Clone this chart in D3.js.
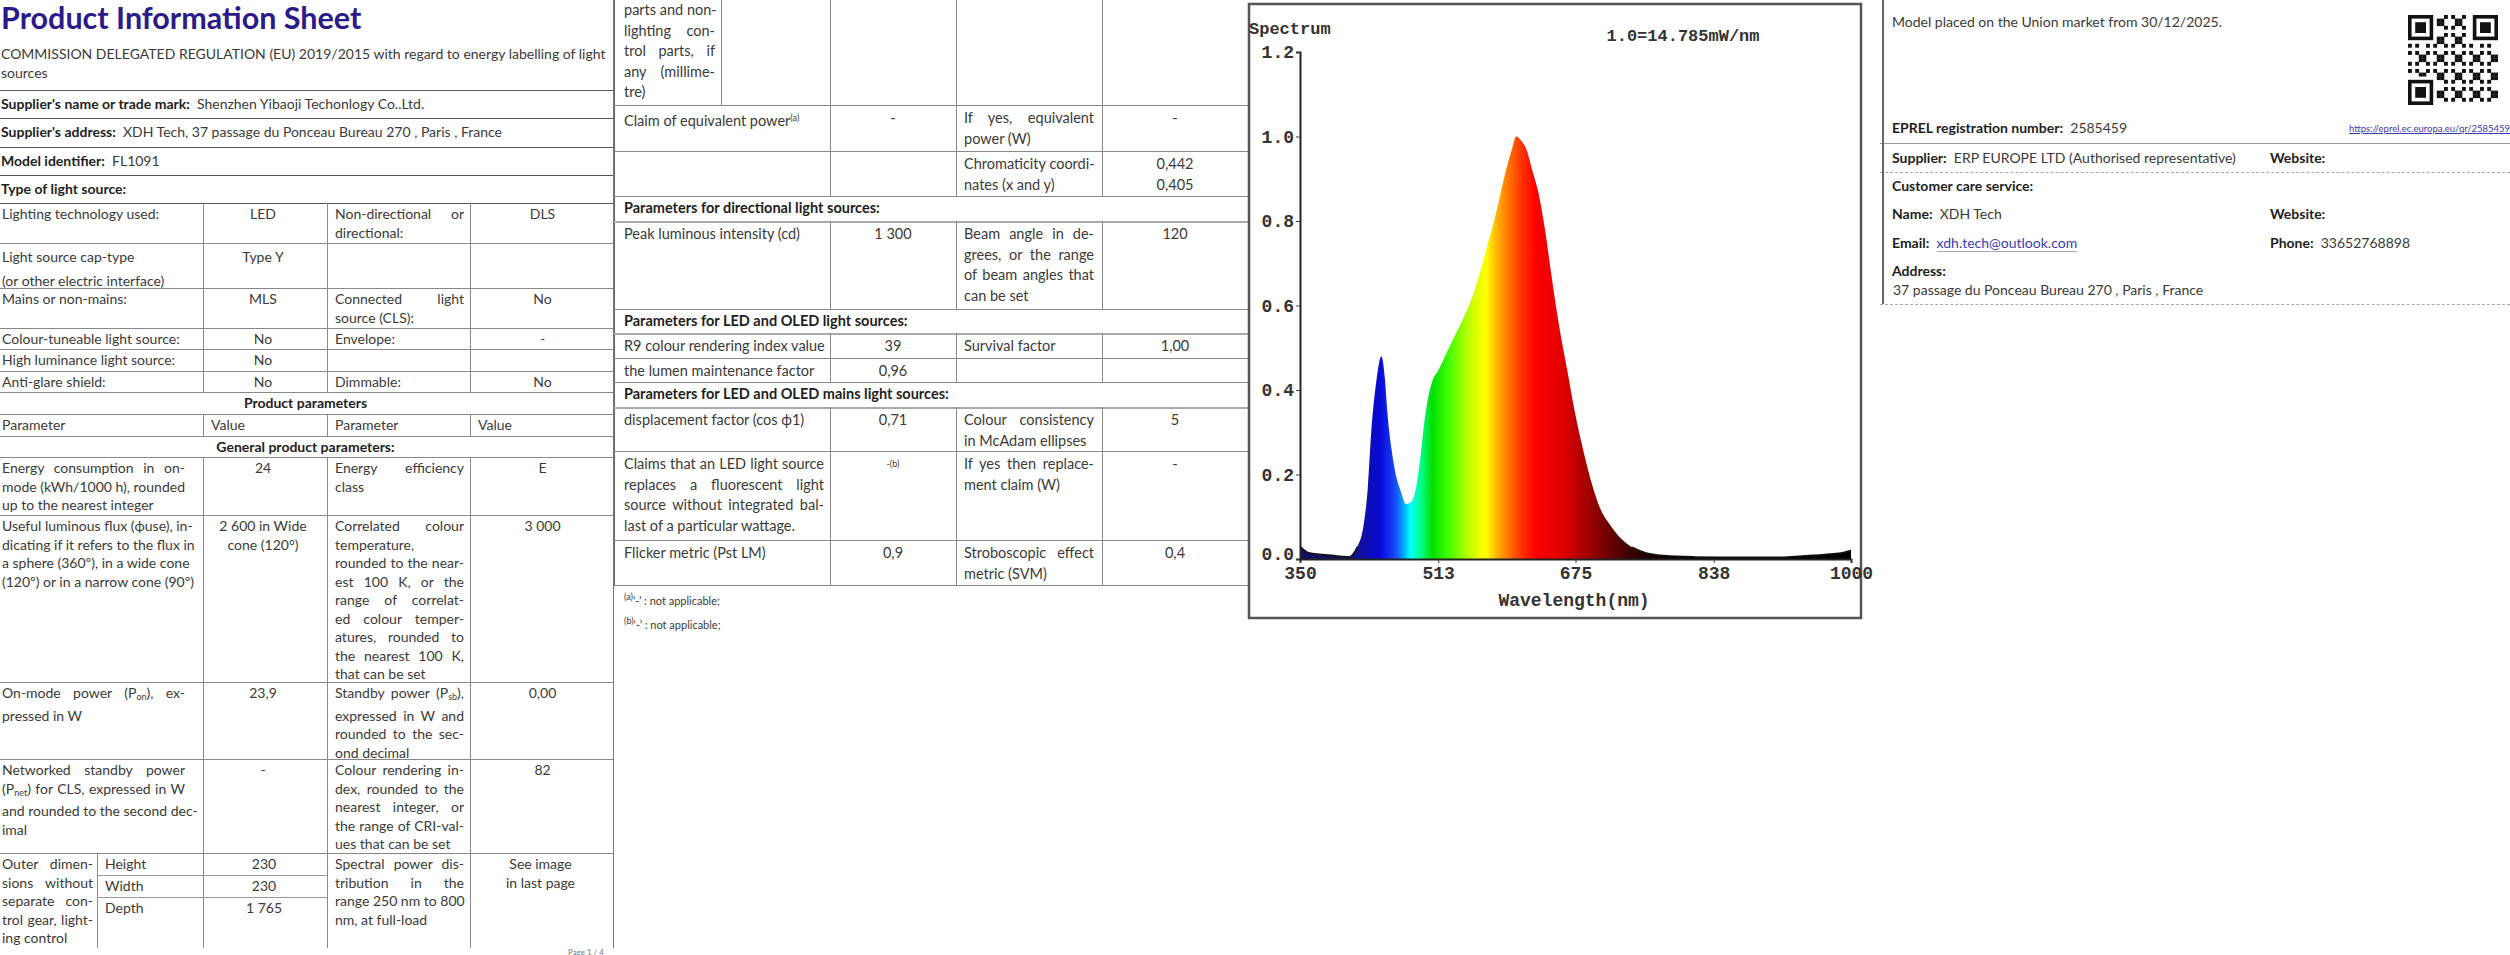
<!DOCTYPE html>
<html><head><meta charset="utf-8">
<script src="https://cdn.jsdelivr.net/npm/d3@7"></script>
<style>
body{margin:0;width:2510px;height:955px;background:#fff;overflow:hidden;font-family:Lato,"Open Sans",sans-serif;color:#3a3a3a;position:relative}
.abs{position:absolute;white-space:nowrap}
.cell{position:absolute;box-sizing:border-box;overflow:hidden}
.ln{white-space:nowrap;overflow:visible}
b{color:#1e1e1e}
sub{font-size:9px;vertical-align:-2px}
sup{font-size:9px;vertical-align:5px}
</style></head><body>
<script>
// ---- spectrum data ----
const wavelengths = [350,360,370,380,390,400,408,412,418,425,430,434,440,446,450,453,458,463,469,475,481,487,492,497,502,506,514,521,533,545,555,564,572,579,586,593,600,605,611,617,624,632,639,646,655,665,675,685,694,704,716,728,742,757,780,815,860,912,950,975,990,1000];
const intensities = [0.03,0.015,0.012,0.01,0.008,0.006,0.005,0.01,0.03,0.08,0.17,0.3,0.42,0.48,0.43,0.35,0.26,0.2,0.16,0.13,0.135,0.17,0.24,0.33,0.39,0.42,0.45,0.48,0.53,0.58,0.63,0.69,0.75,0.8,0.86,0.92,0.97,1.0,0.99,0.97,0.92,0.86,0.78,0.68,0.56,0.45,0.34,0.25,0.18,0.12,0.08,0.05,0.028,0.015,0.008,0.005,0.004,0.004,0.008,0.012,0.015,0.02];
const xTicks = [350,513,675,838,1000];
const yTicks = [0,0.2,0.4,0.6,0.8,1.0,1.2];
const stopWl = [405,425,445,462,472,480,492,506,525,545,560,570,582,596,612,628,660,690,720,752,800];
const stopCol = ["#101060","#1010a8","#0808d8","#1848ff","#00a8ff","#00ffff","#00ff90","#00e000","#40ff00","#a8ff00","#e8ff00","#ffff00","#ffb400","#ff7400","#ff3000","#ff0000","#e00000","#a00000","#600000","#250000","#000000"];

// ---- sheet text ----
const titleText = "Product Information Sheet";
const subtitleLines = ["COMMISSION DELEGATED REGULATION (EU) 2019/2015 with regard to energy labelling of light","sources"];
const headerRows = [["Supplier's name or trade mark:","Shenzhen Yibaoji Techonlogy Co..Ltd."],["Supplier's address:","XDH Tech, 37 passage du Ponceau Bureau 270 , Paris , France"],["Model identifier:","FL1091"],["Type of light source:",""]];
const page1Rows = [
 {h:40,c:[["Lighting technology used:"],["LED"],["Non-directional or","directional:"],["DLS"]]},
 {h:45,lh:24,left:true,c:[["Light source cap-type","(or other electric interface)"],["Type Y"],[""],[""]]},
 {h:40,c:[["Mains or non-mains:"],["MLS"],["Connected light","source (CLS):"],["No"]]},
 {h:21,c:[["Colour-tuneable light source:"],["No"],["Envelope:"],["-"]]},
 {h:22,c:[["High luminance light source:"],["No"],[""],[""]]},
 {h:21,c:[["Anti-glare shield:"],["No"],["Dimmable:"],["No"]]},
 {h:22,title:"Product parameters"},
 {h:22,c:[["Parameter"],["Value"],["Parameter"],["Value"]],plain:true},
 {h:21,title:"General product parameters:"},
 {h:58,c:[["Energy consumption in on-","mode (kWh/1000 h), rounded","up to the nearest integer"],["24"],["Energy efficiency","class"],["E"]]},
 {h:167,c:[["Useful luminous flux (ϕuse), in-","dicating if it refers to the flux in","a sphere (360º), in a wide cone","(120º) or in a narrow cone (90º)"],["2 600 in Wide","cone (120°)"],["Correlated colour","temperature,","rounded to the near-","est 100 K, or the","range of correlat-","ed colour temper-","atures, rounded to","the nearest 100 K,","that can be set"],["3 000"]]},
 {h:77,c:[["On-mode power (P<sub>on</sub>), ex-","pressed in W"],["23,9"],["Standby power (P<sub>sb</sub>),","expressed in W and","rounded to the sec-","ond decimal"],["0,00"]]},
 {h:94,c:[["Networked standby power","(P<sub>net</sub>) for CLS, expressed in W","and rounded to the second dec-","imal"],["-"],["Colour rendering in-","dex, rounded to the","nearest integer, or","the range of CRI-val-","ues that can be set"],["82"]]}
];
const dimLabel = ["Outer dimen-","sions without","separate con-","trol gear, light-","ing control"];
const dimNames = ["Height","Width","Depth"];
const dimValues = ["230","230","1 765"];
const spdCell = [["Spectral power dis-","tribution in the","range 250 nm to 800","nm, at full-load"],["See image","in last page"]];
const page2Rows = [
 {h:105,first:true,c:[["parts and non-","lighting con-","trol parts, if","any (millime-","tre)"],[""],[""],[""]]},
 {h:46,c:[["Claim of equivalent power<sup>(a)</sup>"],["-"],["If yes, equivalent","power (W)"],["-"]]},
 {h:45,c:[[""],[""],["Chromaticity coordi-","nates (x and y)"],["0,442","0,405"]]},
 {h:25,title:"Parameters for directional light sources:"},
 {h:88,c:[["Peak luminous intensity (cd)"],["1 300"],["Beam angle in de-","grees, or the range","of beam angles that","can be set"],["120"]]},
 {h:24,title:"Parameters for LED and OLED light sources:"},
 {h:25,c:[["R9 colour rendering index value"],["39"],["Survival factor"],["1,00"]]},
 {h:24,c:[["the lumen maintenance factor"],["0,96"],[""],[""]]},
 {h:25,title:"Parameters for LED and OLED mains light sources:"},
 {h:44,c:[["displacement factor (cos ϕ1)"],["0,71"],["Colour consistency","in McAdam ellipses"],["5"]]},
 {h:89,c:[["Claims that an LED light source","replaces a fluorescent light","source without integrated bal-","last of a particular wattage."],["<sup>-(b)</sup>"],["If yes then replace-","ment claim (W)"],["-"]]},
 {h:45,c:[["Flicker metric (Pst LM)"],["0,9"],["Stroboscopic effect","metric (SVM)"],["0,4"]]}
];
const footnotes = ["<sup>(a)</sup>‘-’ : not applicable;","<sup>(b)</sup>‘-’ : not applicable;"];
const rightTop = "Model placed on the Union market from 30/12/2025.";
const eprel = ["EPREL registration number:","2585459","https://eprel.ec.europa.eu/qr/2585459"];
const contacts = [["Supplier:","ERP EUROPE LTD (Authorised representative)","Website:",""],["Name:","XDH Tech","Website:",""],["Email:","xdh.tech@outlook.com","Phone:","33652768898"]];
const addressText = "37 passage du Ponceau Bureau 270 , Paris , France";

const body = d3.select("body");
const line = (x1,y1,x2,y2,c="#8a8a8a",w=1,dash) => body.append("div").attr("class","abs")
  .style("left",Math.min(x1,x2)+"px").style("top",Math.min(y1,y2)+"px")
  .style("width",(x1===x2?0:Math.abs(x2-x1))+"px").style("height",(y1===y2?0:Math.abs(y2-y1))+"px")
  .style(x1===x2?"border-left":"border-top",`${w}px ${dash?"dashed":"solid"} ${c}`);

function cell(x,y,w,h,lines,opt={}){
  const d = body.append("div").attr("class","cell")
    .style("left",x+"px").style("top",y+"px").style("width",w+"px").style("height",h+"px")
    .style("padding",`${opt.pt??2}px ${opt.pr??6}px 0 ${opt.pl??4}px`)
    .style("font-size",(opt.fs||14)+"px").style("line-height",(opt.lh||18.5)+"px");
  lines.forEach((t,i)=>{
    const l = d.append("div").attr("class","ln").html(t);
    if(opt.center) l.style("text-align","center");
    else if(!opt.left && lines.length>1 && i<lines.length-1) l.style("text-align","justify").style("text-align-last","justify");
  });
}

// ---- page 1 ----
body.append("div").attr("class","abs").style("left","1px").style("top","-1px")
  .style("font-size","30.5px").style("font-weight","bold").style("color","#2b1a8a").text(titleText);
subtitleLines.forEach((t,i)=>body.append("div").attr("class","abs").style("left","1px").style("top",(45+i*19)+"px").style("font-size","14px").text(t));
let y = 90;
line(0,y,613,y,"#555");
headerRows.forEach(r=>{
  body.append("div").attr("class","abs").style("left","1px").style("top",(y+5)+"px").style("font-size","14px")
    .html(`<b>${r[0]}</b>&nbsp; ${r[1]}`);
  y+=28.25; line(0,Math.round(y),613,Math.round(y),"#555");
});
y=203;
const c1 = [0,203,327,470,613];
page1Rows.forEach(r=>{
  if(r.title){ cell(0,y,613,r.h,[`<b>${r.title}</b>`],{center:true}); }
  else r.c.forEach((t,i)=>{
    const center = (i%2===1 || i===3) && !r.plain;
    cell(c1[i],y,c1[i+1]-c1[i],r.h,t,{center,left:r.left,lh:r.lh,pl:i>1||r.plain&&i>0?8:2,pr:i===0?18:6});
    if(i>0) line(c1[i],y,c1[i],y+r.h);
  });
  y+=r.h; line(0,y,613,y,"#888");
});
// dimension block
const dimTop=y, dimH=[22,22,53];
cell(0,y,97,95,dimLabel,{pl:2,pr:4});
line(97,y,97,y+95); line(203,y,203,y+95); line(327,y,327,y+95); line(470,y,470,y+95);
dimNames.forEach((n,i)=>{
  cell(97,y,106,dimH[i],[n],{pl:8}); cell(203,y,124,dimH[i],[dimValues[i]],{center:true});
  y+=dimH[i]; if(i<2) line(97,y,327,y,"#999");
});
cell(327,dimTop,143,95,spdCell[0],{pl:8});
cell(470,dimTop,143,95,spdCell[1],{center:true});
line(613,0,613,948,"#777");
body.append("div").attr("class","abs").style("left","568px").style("top","947px").style("font-size","8px").style("color","#777").text("Page 1 / 4");

// ---- page 2 ----
const c2 = [614,830,956,1102,1248];
const fs2 = 14.5;
y=0;
line(614,0,614,585,"#666");
page2Rows.forEach(r=>{
  if(r.title){ cell(614,y,634,r.h,[`<b>${r.title}</b>`],{fs:fs2,pl:10,pt:3}); }
  else r.c.forEach((t,i)=>{
    const center = i===1 || i===3;
    if(r.first && i===0){ cell(614,y,107,r.h,t,{fs:fs2,lh:20.5,pl:10,pr:6,pt:0}); line(721,y,721,y+r.h); }
    else cell(c2[i],y,c2[i+1]-c2[i],r.h,t,{center,fs:fs2,lh:20.5,pl:i===0?10:8,pr:i===0?6:8,pt:3});
    if(i>0) line(c2[i],y,c2[i],y+r.h);
  });
  y+=r.h; line(614,y,1248,y,r.title?"#aaa":"#888",r.title?2:1);
});
footnotes.forEach((t,i)=>body.append("div").attr("class","abs").style("left","624px").style("top",(y+6+i*24)+"px").style("font-size","11px").html(t));

// ---- spectrum chart ----
const svg = body.append("svg").attr("class","abs").style("left","1245px").style("top","0px").attr("width",640).attr("height",625);
svg.append("rect").attr("x",4).attr("y",4).attr("width",612).attr("height",614).attr("fill","#fff").attr("stroke","#555").attr("stroke-width",2.5);
const x = d3.scaleLinear().domain([350,1000]).range([55,606]);
const yS = d3.scaleLinear().domain([0,1.2]).range([559,52]);
const grad = svg.append("defs").append("linearGradient").attr("id","spec").attr("gradientUnits","userSpaceOnUse")
  .attr("x1",x(350)).attr("x2",x(1000)).attr("y1",0).attr("y2",0);
grad.selectAll("stop").data(stopWl).enter().append("stop")
  .attr("offset",d=>(d-350)/650).attr("stop-color",(d,i)=>stopCol[i]);
const pts = wavelengths.map((w,i)=>[w,intensities[i]]);
svg.append("path").datum(pts).attr("fill","url(#spec)")
  .attr("d",d3.area().x(d=>x(d[0])).y0(yS(0)).y1(d=>yS(d[1])).curve(d3.curveMonotoneX));
svg.append("path").datum(pts).attr("fill","none").attr("stroke","#111").attr("stroke-width",1.5)
  .attr("d",d3.line().defined(d=>d[0]<=418||d[0]>=742).x(d=>x(d[0])).y(d=>yS(d[1])).curve(d3.curveMonotoneX));
const mono = "'Liberation Mono','DejaVu Sans Mono',monospace";
const ax = svg.append("g").attr("transform",`translate(0,${yS(0)})`).call(d3.axisBottom(x).tickValues(xTicks).tickFormat(d3.format("d")).tickSize(4).tickPadding(3));
const ay = svg.append("g").attr("transform",`translate(${x(350)},0)`).call(d3.axisLeft(yS).tickValues(yTicks).tickFormat(d3.format(".1f")).tickSize(4).tickPadding(2));
[ax,ay].forEach(a=>{a.select(".domain").attr("stroke","#222").attr("stroke-width",2);
  a.selectAll("text").attr("font-family",mono).attr("font-size",18).attr("fill","#333").attr("font-weight","bold");});
ay.selectAll(".tick text").filter(d=>d===0).attr("dy","0.05em");
svg.append("text").attr("x",4).attr("y",34).attr("font-family",mono).attr("font-size",17).attr("font-weight","bold").attr("fill","#333").text("Spectrum");
svg.append("text").attr("x",438).attr("y",41).attr("text-anchor","middle").attr("font-family",mono).attr("font-size",17).attr("font-weight","bold").attr("fill","#333").text("1.0=14.785mW/nm");
svg.append("text").attr("x",329).attr("y",606).attr("text-anchor","middle").attr("font-family",mono).attr("font-size",18).attr("font-weight","bold").attr("fill","#333").text("Wavelength(nm)");

// ---- right panel ----
const rp = 1892;
body.append("div").attr("class","abs").style("left",rp+"px").style("top","13px").style("font-size","14px").text(rightTop);
body.append("div").attr("class","abs").style("left",rp+"px").style("top","119px").style("font-size","14px").html(`<b>${eprel[0]}</b>&nbsp; ${eprel[1]}`);
body.append("div").attr("class","abs").style("left","2349px").style("top","123px").style("font-size","9.5px").style("color","#3b3bb0").style("text-decoration","underline").text(eprel[2]);
line(1880,143,2510,143,"#999");
const rowY=[149,205,234];
contacts.forEach((c,i)=>{
  body.append("div").attr("class","abs").style("left",rp+"px").style("top",rowY[i]+"px").style("font-size","14px")
    .html(`<b>${c[0]}</b>&nbsp; ${i===2?`<span style="color:#3b3bb0;border-bottom:1px solid #aab">${c[1]}</span>`:c[1]}`);
  body.append("div").attr("class","abs").style("left","2270px").style("top",rowY[i]+"px").style("font-size","14px").html(`<b>${c[2]}</b>&nbsp; ${c[3]}`);
});
line(1880,172,2510,172,"#aaa",1,true);
body.append("div").attr("class","abs").style("left",rp+"px").style("top","177px").style("font-size","14px").html("<b>Customer care service:</b>");
body.append("div").attr("class","abs").style("left",rp+"px").style("top","262px").style("font-size","14px").html("<b>Address:</b>");
body.append("div").attr("class","abs").style("left","1893px").style("top","281px").style("font-size","14px").text(addressText);
line(1880,304,2510,304,"#aaa",1,true);
line(1882,0,1882,304,"#666",2);

// QR code (decorative module pattern)
const qr = body.append("svg").attr("class","abs").style("left","2408px").style("top","15px").attr("width",90).attr("height",90);
const N=25, m=90/N;
const finder=(cx,cy)=>{qr.append("rect").attr("x",cx*m).attr("y",cy*m).attr("width",7*m).attr("height",7*m).attr("fill","#111");
 qr.append("rect").attr("x",(cx+1)*m).attr("y",(cy+1)*m).attr("width",5*m).attr("height",5*m).attr("fill","#fff");
 qr.append("rect").attr("x",(cx+2)*m).attr("y",(cy+2)*m).attr("width",3*m).attr("height",3*m).attr("fill","#111");};
const cells=[];
for(let r=0;r<N;r++)for(let c=0;c<N;c++){
  const inF=(r<8&&c<8)||(r<8&&c>=N-8)||(r>=N-8&&c<8);
  if(!inF && ((r*7+c*13+r*c*3)%5<2)) cells.push([r,c]);
}
qr.selectAll("rect.m").data(cells).enter().append("rect").attr("class","m").attr("x",d=>d[1]*m).attr("y",d=>d[0]*m).attr("width",m+0.3).attr("height",m+0.3).attr("fill","#111");
finder(0,0);finder(N-7,0);finder(0,N-7);
</script></body></html>
